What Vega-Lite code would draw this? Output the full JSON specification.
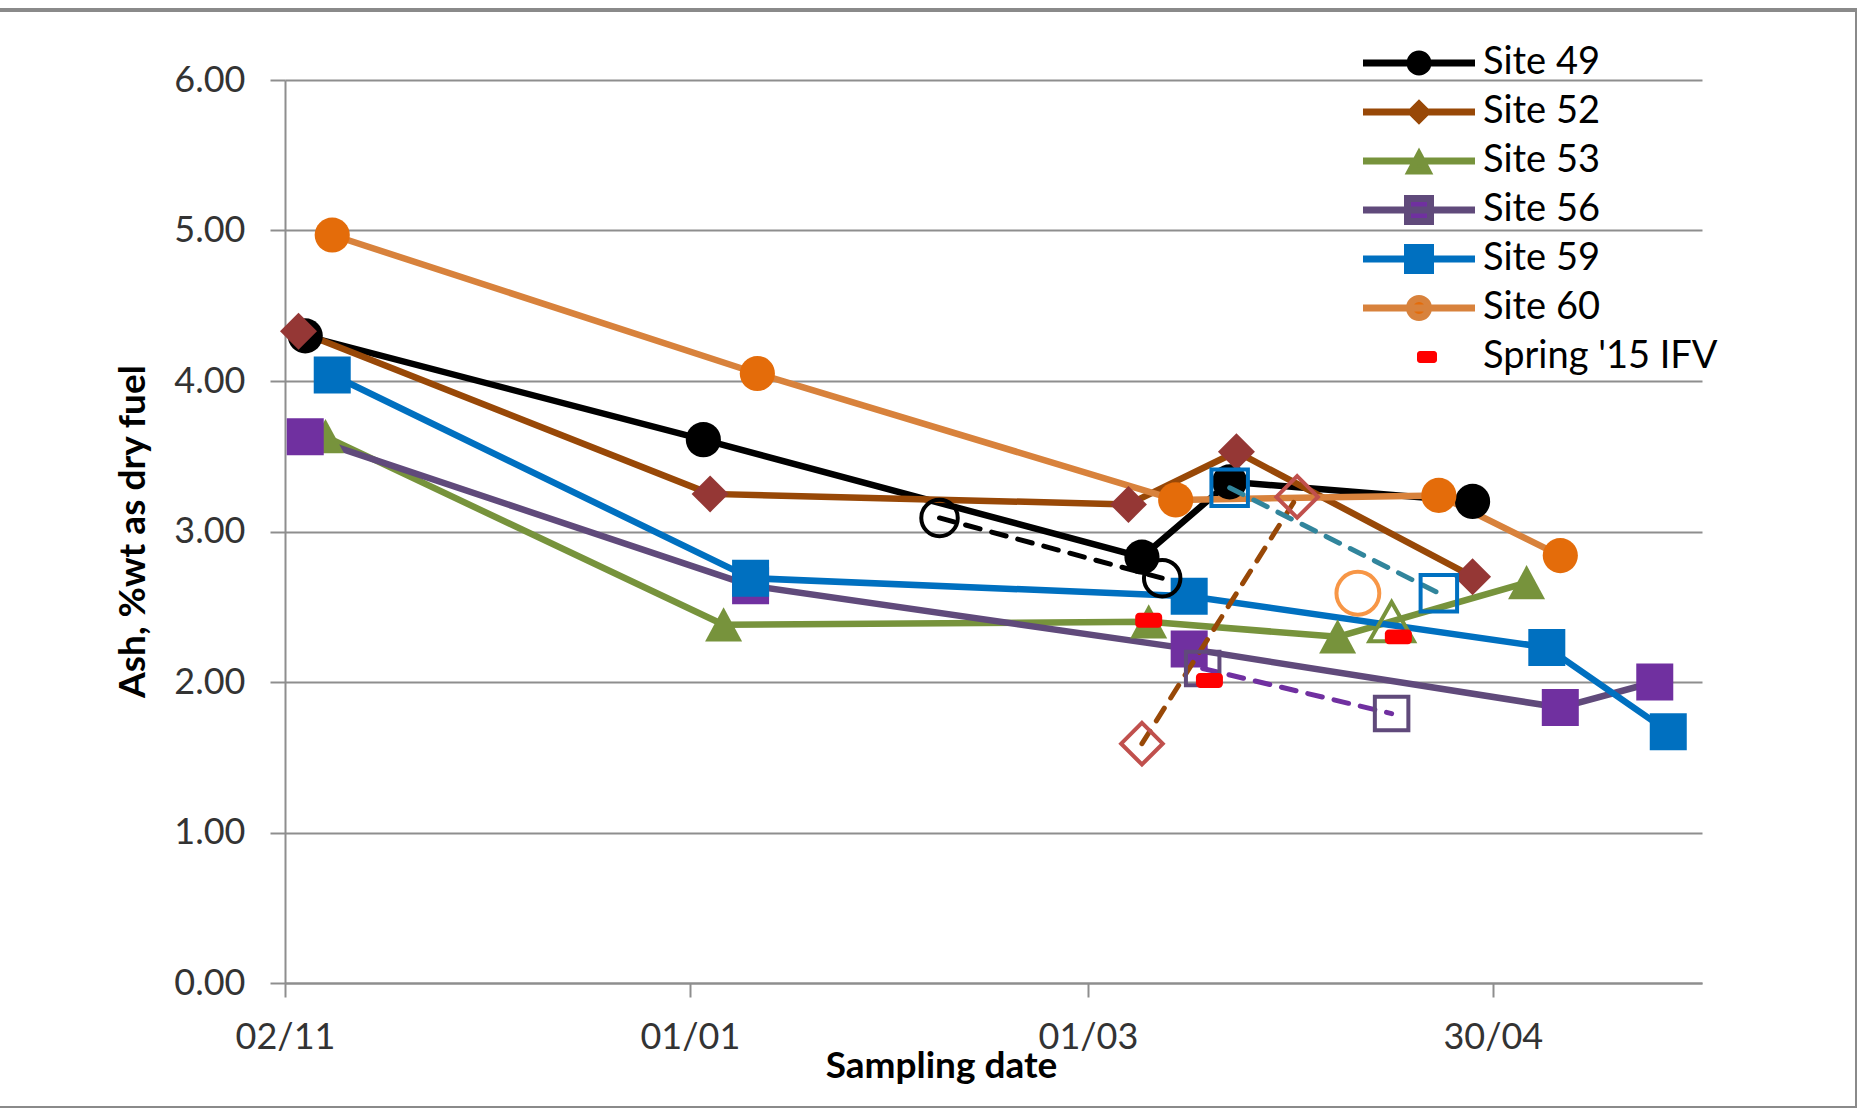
{
  "$schema": "https://vega.github.io/schema/vega-lite/v6.json",
  "width": 1861,
  "height": 1098,
  "autosize": {"type": "none"},
  "padding": {"left": -4, "top": 10, "right": 0, "bottom": 0},
  "background": "white",
  "config": {
    "font": "Lato",
    "view": {"stroke": "#8A8A8A", "strokeWidth": 4}
  },
  "datasets": {
    "ash": [
      {"site": "Site 49", "series": "main", "date": "2014-11-05", "ash": 4.30},
      {"site": "Site 49", "series": "main", "date": "2015-01-03", "ash": 3.61},
      {"site": "Site 49", "series": "main", "date": "2015-03-09", "ash": 2.83},
      {"site": "Site 49", "series": "main", "date": "2015-03-22", "ash": 3.33},
      {"site": "Site 49", "series": "main", "date": "2015-04-27", "ash": 3.20},
      {"site": "Site 49", "series": "alternate", "date": "2015-02-07", "ash": 3.09},
      {"site": "Site 49", "series": "alternate", "date": "2015-03-12", "ash": 2.69},

      {"site": "Site 52", "series": "main", "date": "2014-11-04", "ash": 4.33},
      {"site": "Site 52", "series": "main", "date": "2015-01-04", "ash": 3.25},
      {"site": "Site 52", "series": "main", "date": "2015-03-07", "ash": 3.18},
      {"site": "Site 52", "series": "main", "date": "2015-03-23", "ash": 3.53},
      {"site": "Site 52", "series": "main", "date": "2015-04-27", "ash": 2.70},
      {"site": "Site 52", "series": "alternate", "date": "2015-03-09", "ash": 1.59},
      {"site": "Site 52", "series": "alternate", "date": "2015-04-01", "ash": 3.23},

      {"site": "Site 53", "series": "main", "date": "2014-11-08", "ash": 3.63},
      {"site": "Site 53", "series": "main", "date": "2015-01-06", "ash": 2.38},
      {"site": "Site 53", "series": "main", "date": "2015-03-10", "ash": 2.40},
      {"site": "Site 53", "series": "main", "date": "2015-04-07", "ash": 2.30},
      {"site": "Site 53", "series": "main", "date": "2015-05-05", "ash": 2.66},
      {"site": "Site 53", "series": "alternate", "date": "2015-04-15", "ash": 2.39},

      {"site": "Site 56", "series": "main", "date": "2014-11-05", "ash": 3.63},
      {"site": "Site 56", "series": "main", "date": "2015-01-10", "ash": 2.64},
      {"site": "Site 56", "series": "main", "date": "2015-03-16", "ash": 2.22},
      {"site": "Site 56", "series": "main", "date": "2015-05-10", "ash": 1.83},
      {"site": "Site 56", "series": "main", "date": "2015-05-24", "ash": 2.00},
      {"site": "Site 56", "series": "alternate", "date": "2015-03-18", "ash": 2.09},
      {"site": "Site 56", "series": "alternate", "date": "2015-04-15", "ash": 1.79},

      {"site": "Site 59", "series": "main", "date": "2014-11-09", "ash": 4.04},
      {"site": "Site 59", "series": "main", "date": "2015-01-10", "ash": 2.69},
      {"site": "Site 59", "series": "main", "date": "2015-03-16", "ash": 2.57},
      {"site": "Site 59", "series": "main", "date": "2015-05-08", "ash": 2.23},
      {"site": "Site 59", "series": "main", "date": "2015-05-26", "ash": 1.67},
      {"site": "Site 59", "series": "alternate", "date": "2015-03-22", "ash": 3.29},
      {"site": "Site 59", "series": "alternate", "date": "2015-04-22", "ash": 2.59},

      {"site": "Site 60", "series": "main", "date": "2014-11-09", "ash": 4.97},
      {"site": "Site 60", "series": "main", "date": "2015-01-11", "ash": 4.05},
      {"site": "Site 60", "series": "main", "date": "2015-03-14", "ash": 3.21},
      {"site": "Site 60", "series": "main", "date": "2015-04-22", "ash": 3.24},
      {"site": "Site 60", "series": "main", "date": "2015-05-10", "ash": 2.84},
      {"site": "Site 60", "series": "alternate", "date": "2015-04-10", "ash": 2.59},

      {"site": "Spring '15 IFV", "series": "ifv", "date": "2015-03-10", "ash": 2.41},
      {"site": "Spring '15 IFV", "series": "ifv", "date": "2015-03-19", "ash": 2.01},
      {"site": "Spring '15 IFV", "series": "ifv", "date": "2015-04-16", "ash": 2.30}
    ]
  },
  "data": {"name": "ash"},
  "encoding": {
    "x": {
      "field": "date",
      "type": "temporal",
      "scale": {
        "type": "utc",
        "domain": [
          {"year": 2014, "month": 11, "date": 2, "utc": true},
          {"year": 2015, "month": 5, "date": 31, "utc": true}
        ],
        "range": [289, 1706]
      },
      "axis": {
        "values": [
          {"year": 2014, "month": 11, "date": 2, "utc": true},
          {"year": 2015, "month": 1, "date": 1, "utc": true},
          {"year": 2015, "month": 3, "date": 1, "utc": true},
          {"year": 2015, "month": 4, "date": 30, "utc": true}
        ],
        "format": "%d/%m",
        "offset": -125,
        "grid": false,
        "domainColor": "#8E8E8E",
        "domainWidth": 2,
        "tickColor": "#8E8E8E",
        "tickWidth": 2,
        "tickSize": 14,
        "labelFont": "Lato",
        "labelFontSize": 36,
        "labelColor": "#333333",
        "labelPadding": 51,
        "labelBaseline": "alphabetic",
        "labelFlush": false,
        "labelOverlap": false,
        "title": "Sampling date",
        "titleFont": "Lato",
        "titleFontSize": 37,
        "titleFontWeight": "bold",
        "titleColor": "#000000",
        "titleX": 945,
        "titleY": 94,
        "titleAlign": "center",
        "titleBaseline": "alphabetic"
      }
    },
    "y": {
      "field": "ash",
      "type": "quantitative",
      "scale": {"domain": [0, 6], "range": [973, 70], "nice": false, "zero": true},
      "axis": {
        "values": [0, 1, 2, 3, 4, 5, 6],
        "format": ".2f",
        "offset": -289,
        "grid": true,
        "gridColor": "#8E8E8E",
        "gridWidth": 2,
        "gridOpacity": 1,
        "domainColor": "#8E8E8E",
        "domainWidth": 2,
        "tickColor": "#8E8E8E",
        "tickWidth": 2,
        "tickSize": 15,
        "labelFont": "Lato",
        "labelFontSize": 36,
        "labelColor": "#333333",
        "labelPadding": 25,
        "labelOverlap": false,
        "title": "Ash, %wt as dry fuel",
        "titleFont": "Lato",
        "titleFontSize": 37,
        "titleFontWeight": "bold",
        "titleColor": "#000000",
        "titleAngle": 270,
        "titleX": -141,
        "titleY": 521,
        "titleAlign": "center",
        "titleBaseline": "alphabetic"
      }
    }
  },
  "layer": [
    {
      "transform": [{"filter": "datum.series === 'main'"}],
      "mark": {"type": "line", "strokeWidth": 6.5, "strokeJoin": "round", "strokeCap": "round"},
      "encoding": {
        "color": {
          "field": "site",
          "type": "nominal",
          "scale": {
            "domain": ["Site 49", "Site 52", "Site 53", "Site 56", "Site 59", "Site 60"],
            "range": ["#000000", "#984807", "#77933C", "#604A7B", "#0070C0", "#D8823C"]
          },
          "legend": null
        }
      }
    },
    {
      "transform": [{"filter": "datum.series === 'main'"}],
      "mark": {"type": "point", "filled": true, "opacity": 1, "size": 1369, "strokeWidth": 0},
      "encoding": {
        "shape": {
          "field": "site",
          "type": "nominal",
          "scale": {
            "domain": ["Site 49", "Site 52", "Site 53", "Site 56", "Site 59", "Site 60"],
            "range": [
              "M0.95,0A0.95,0.95,0,1,1,-0.95,0A0.95,0.95,0,1,1,0.95,0Z",
              "diamond",
              "M0,-0.95L1,0.9L-1,0.9Z",
              "square",
              "square",
              "M0.95,0A0.95,0.95,0,1,1,-0.95,0A0.95,0.95,0,1,1,0.95,0Z"
            ]
          },
          "legend": null
        },
        "fill": {
          "field": "site",
          "type": "nominal",
          "scale": {
            "domain": ["Site 49", "Site 52", "Site 53", "Site 56", "Site 59", "Site 60"],
            "range": ["#000000", "#953735", "#77933C", "#7030A0", "#0070C0", "#E46C0A"]
          },
          "legend": null
        }
      }
    },
    {
      "transform": [{"filter": "datum.series === 'alternate'"}],
      "mark": {"type": "line", "strokeWidth": 5, "strokeDash": [15, 12], "strokeCap": "round", "strokeJoin": "round"},
      "encoding": {
        "color": {
          "field": "site",
          "type": "nominal",
          "scale": {
            "domain": ["Site 49", "Site 52", "Site 53", "Site 56", "Site 59", "Site 60"],
            "range": ["#000000", "#984807", "#77933C", "#7030A0", "#31859C", "#F79646"]
          },
          "legend": null
        }
      }
    },
    {
      "transform": [{"filter": "datum.series === 'alternate'"}],
      "mark": {"type": "point", "filled": false, "opacity": 1, "size": 1800, "strokeWidth": 4},
      "encoding": {
        "shape": {
          "field": "site",
          "type": "nominal",
          "scale": {
            "domain": ["Site 49", "Site 52", "Site 53", "Site 56", "Site 59", "Site 60"],
            "range": [
              "M0.86,0A0.86,0.86,0,1,1,-0.86,0A0.86,0.86,0,1,1,0.86,0Z",
              "M0,-0.98L0.98,0L0,0.98L-0.98,0Z",
              "M0,-1L1.05,0.85L-1.05,0.85Z",
              "M-0.79,-0.79H0.79V0.79H-0.79Z",
              "M-0.86,-0.86H0.86V0.86H-0.86Z",
              "M1.01,0A1.01,1.01,0,1,1,-1.01,0A1.01,1.01,0,1,1,1.01,0Z"
            ]
          },
          "legend": null
        },
        "stroke": {
          "field": "site",
          "type": "nominal",
          "scale": {
            "domain": ["Site 49", "Site 52", "Site 53", "Site 56", "Site 59", "Site 60"],
            "range": ["#000000", "#C0504D", "#77933C", "#604A7B", "#0070C0", "#F79646"]
          },
          "legend": null
        }
      }
    },
    {
      "transform": [{"filter": "datum.series === 'ifv'"}],
      "mark": {
        "type": "point",
        "filled": true,
        "opacity": 1,
        "size": 729,
        "strokeWidth": 0,
        "color": "#FF0000",
        "shape": "M-0.7,-0.55H0.7A0.3,0.3,0,0,1,1,-0.25V0.25A0.3,0.3,0,0,1,0.7,0.55H-0.7A0.3,0.3,0,0,1,-1,0.25V-0.25A0.3,0.3,0,0,1,-0.7,-0.55Z"
      }
    },
    {
      "transform": [{"filter": "datum.series !== 'alternate'"}],
      "mark": {"type": "point", "filled": true, "opacity": 0, "strokeWidth": 7, "strokeCap": "round"},
      "encoding": {
        "shape": {
          "field": "site",
          "type": "nominal",
          "scale": {
            "domain": ["Site 49", "Site 52", "Site 53", "Site 56", "Site 59", "Site 60", "Spring '15 IFV"],
            "range": [
              "M-5.6,0H5.6M0.9,0A0.9,0.9,0,1,1,-0.9,0A0.9,0.9,0,1,1,0.9,0Z",
              "M-5.6,0H5.6M0,-0.78L0.78,0L0,0.78L-0.78,0Z",
              "M-5.6,0H5.6M0,-0.6L0.85,1L-0.85,1Z",
              "M-5.6,0H5.6M-1.15,-1.15H1.15V1.15H-1.15Z",
              "M-5.6,0H5.6M-1.15,-1.15H1.15V1.15H-1.15Z",
              "M-5.6,0H5.6M0.95,0A0.95,0.95,0,1,1,-0.95,0A0.95,0.95,0,1,1,0.95,0Z",
              "M0.1,-0.6H1.5A0.3,0.3,0,0,1,1.8,-0.3V0.3A0.3,0.3,0,0,1,1.5,0.6H0.1A0.3,0.3,0,0,1,-0.2,0.3V-0.3A0.3,0.3,0,0,1,0.1,-0.6Z"
            ]
          },
          "legend": {
            "orient": "none",
            "legendX": 1404,
            "legendY": 34,
            "title": null,
            "padding": 0,
            "gridAlign": "all",
            "symbolSize": 400,
            "symbolStrokeWidth": 7,
            "symbolOpacity": 1,
            "labelFont": "Lato",
            "labelFontSize": 38,
            "labelColor": "#000000",
            "labelOffset": 45,
            "labelLimit": 0,
            "labelBaseline": "middle",
            "rowPadding": -3,
            "encode": {"symbols": {"update": {"opacity": {"value": 1}, "strokeCap": {"value": "round"}}}}
          }
        },
        "fill": {
          "field": "site",
          "type": "nominal",
          "scale": {
            "domain": ["Site 49", "Site 52", "Site 53", "Site 56", "Site 59", "Site 60", "Spring '15 IFV"],
            "range": ["#000000", "#953735", "#77933C", "#7030A0", "#0070C0", "#E46C0A", "#FF0000"]
          },
          "legend": {
            "orient": "none",
            "legendX": 1404,
            "legendY": 34,
            "title": null,
            "padding": 0,
            "gridAlign": "all",
            "symbolSize": 400,
            "symbolStrokeWidth": 7,
            "symbolOpacity": 1,
            "labelFont": "Lato",
            "labelFontSize": 38,
            "labelColor": "#000000",
            "labelOffset": 45,
            "labelLimit": 0,
            "labelBaseline": "middle",
            "rowPadding": -3
          }
        },
        "stroke": {
          "field": "site",
          "type": "nominal",
          "scale": {
            "domain": ["Site 49", "Site 52", "Site 53", "Site 56", "Site 59", "Site 60", "Spring '15 IFV"],
            "range": ["#000000", "#984807", "#77933C", "#604A7B", "#0070C0", "#D8823C", "transparent"]
          },
          "legend": {
            "orient": "none",
            "legendX": 1404,
            "legendY": 34,
            "title": null,
            "padding": 0,
            "gridAlign": "all",
            "symbolSize": 400,
            "symbolStrokeWidth": 7,
            "symbolOpacity": 1,
            "labelFont": "Lato",
            "labelFontSize": 38,
            "labelColor": "#000000",
            "labelOffset": 45,
            "labelLimit": 0,
            "labelBaseline": "middle",
            "rowPadding": -3
          }
        }
      }
    }
  ],
  "resolve": {
    "scale": {"color": "independent", "fill": "independent", "stroke": "independent", "shape": "independent"}
  }
}
